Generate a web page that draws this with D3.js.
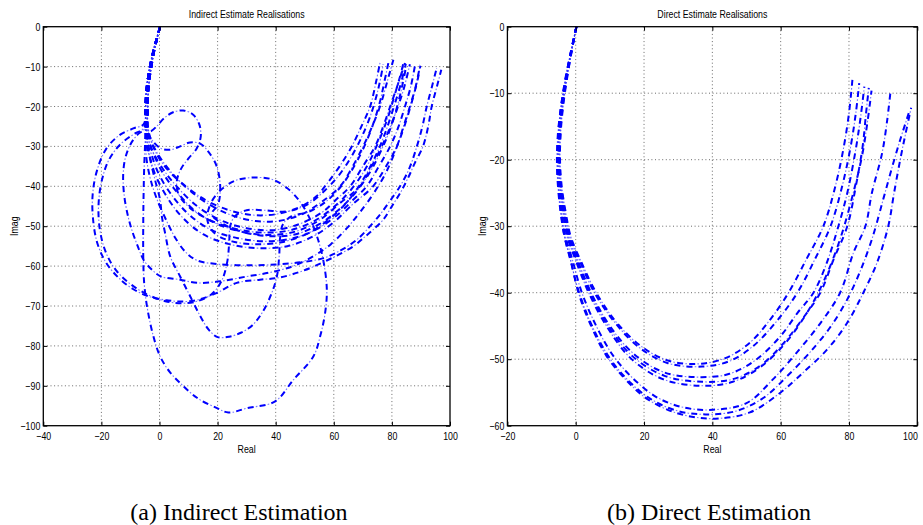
<!DOCTYPE html>
<html>
<head>
<meta charset="utf-8">
<script src="https://cdn.jsdelivr.net/npm/d3@7/dist/d3.min.js"></script>
<style>
  body { margin: 0; background: #fff; }
  svg text { font-family: "Liberation Sans", Arial, Helvetica, sans-serif; fill: #000; }
  svg text.caption { font-family: "Liberation Serif", "Times New Roman", serif; font-size: 24px; }
</style>
</head>
<body>
<svg id="fig" width="923" height="525"></svg>
<script>
// ---- tick values ----
const indirectXTicks = [-40, -20, 0, 20, 40, 60, 80, 100];
const indirectYTicks = [0, -10, -20, -30, -40, -50, -60, -70, -80, -90, -100];
const directXTicks = [-20, 0, 20, 40, 60, 80, 100];
const directYTicks = [0, -10, -20, -30, -40, -50, -60];

// ---- indirect estimate realisations: [real, imag] ----
const trunkA = [[0.2,0],[-1,-3],[-2.1,-6],[-3.3,-10],[-4.2,-14],[-4.7,-18],[-4.8,-22]];
const trunkB = [[0.2,0],[-0.8,-3],[-1.8,-6],[-2.8,-10],[-3.6,-14],[-4,-18],[-4.1,-22]];

const ind1 = trunkB.concat([[-4,-26],[-2.8,-29],[-0.5,-32.5],[3,-36],[9,-40],[16,-43.5],[24,-46],[32,-47.2],[40,-47],[48,-45.3],[54,-42.5],[58,-39],[62,-35],[66.2,-30],[69.5,-25],[72.5,-20],[74.5,-14],[76,-8.7]]);
const ind2 = trunkB.concat([[-3.8,-26],[-2.6,-29],[-0.5,-32],[3.5,-36],[9.5,-40.5],[17,-44.5],[25,-47.3],[33,-48.7],[41,-48.7],[49,-47],[56,-43.8],[62.2,-40],[66.5,-35],[70.1,-30],[73.2,-25],[75.9,-20],[78.3,-14],[80.5,-8.3]]);
const ind3 = trunkA.concat([[-4.3,-26],[-3.5,-29],[-1.8,-32],[1.5,-36],[6.5,-40.5],[13,-45],[21,-48.5],[30,-50.5],[39,-51],[48,-49.5],[56,-46.5],[61,-43.2],[65.6,-40],[70,-35],[74.2,-30],[77,-25],[79.4,-20],[81.8,-15],[84.5,-9.1]]);
const ind4 = trunkB.concat([[-4.4,-26],[-3.6,-29],[-2,-32],[1,-36.5],[5.5,-41],[12,-46],[20,-49.5],[29,-51.5],[38,-52.2],[47,-51.3],[55,-48.5],[62.5,-44],[69,-40],[73,-35],[76.5,-30],[79.5,-25],[82.1,-20],[84.3,-15],[86.2,-9.4]]);
const ind5 = trunkA.concat([[-4.6,-26],[-4.2,-29],[-2.8,-32],[-0.5,-36.5],[3.5,-41.5],[10,-47],[18,-51],[27,-53],[37,-53.8],[46,-53],[54,-50.8],[61,-47.3],[66.5,-43.5],[71.3,-40],[75.5,-35],[79.4,-30],[82.3,-25],[84.5,-20],[86.5,-15],[88,-9.5]]);
const ind6 = trunkA.concat([[-4.7,-26],[-4.4,-30],[-3.2,-33],[-1.5,-37],[2,-42],[7.5,-47.5],[15,-52],[24,-54.5],[34,-55.5],[44,-55],[53,-52.5],[60,-49],[66.5,-44.5],[73.5,-40],[78,-35],[81.7,-30],[84,-25],[86.2,-20],[88.2,-15],[89.7,-9.6]]);
const ind7 = trunkA.concat([[-4.8,-26],[-4.8,-30],[-4.3,-34],[-3,-38.5],[-1,-43],[2,-48],[5.5,-53],[9,-56.5],[13,-58.6],[20,-59.5],[30,-59.8],[40,-59.6],[49,-59],[56.4,-58],[62.5,-56],[67.9,-53.4],[72.5,-50],[76,-47],[79.5,-43.5],[82.8,-40],[86,-35.5],[88.6,-30],[90.5,-25],[92,-20],[93.8,-15],[95.4,-10.4]]);
const ind8 = trunkA.concat([[-5.5,-24.5],[-9,-25.5],[-14,-27.3],[-18.5,-30.8],[-21.5,-36],[-23,-42],[-22.9,-48],[-21.5,-54],[-18.5,-59],[-14,-63],[-9,-65.8],[-4,-67.5],[2,-68.5],[8,-68.9],[13,-68.5],[19.8,-66.7],[26.6,-64.2],[34.6,-63.4],[40.4,-63],[46,-62],[51.8,-60.5],[57.6,-58.6],[62,-57],[66.8,-55],[70.5,-52.8],[73.5,-50.9],[77,-48.4],[80,-45],[83,-41.5],[85.5,-38],[88,-34],[90.7,-30],[92.5,-25],[93.7,-20],[95.5,-15],[97,-10.8]]);
const ind9 = trunkB.concat([[-5.5,-25.5],[-9,-27],[-13.5,-29.5],[-17.5,-33.5],[-20,-39],[-21,-45],[-20.5,-51],[-18.5,-56.5],[-15,-61],[-10,-64.5],[-4.5,-67],[2,-68.8],[8,-69.3],[13,-68.8],[18,-67],[21.5,-63.5],[23.3,-59],[24,-54],[24.3,-50],[26,-47.5],[30,-46],[36,-46],[44,-46.3],[51,-44.5],[57,-41],[62,-37],[66.5,-32],[70,-27],[73,-21.5],[75.5,-15],[77,-9.5]]);
const ind10 = trunkA.concat([[-4.8,-26],[-5,-30],[-5.3,-36],[-5.5,-43],[-5.6,-50],[-5.6,-57],[-5.3,-64],[-4.3,-70.1],[-2.1,-77.6],[0.2,-82.6],[3.5,-86.5],[7.1,-89.3],[12.9,-93],[19.8,-95.6],[23.7,-96.7],[30.1,-95.6],[39.8,-93.9],[46.1,-88.5],[53,-82.6],[55.3,-77.6],[57,-71.8],[57.6,-65.9],[56.5,-59],[54.6,-53.4],[52,-48.5],[48.5,-44],[44,-40.5],[38.5,-38.2],[32.2,-37.8],[26,-38.6],[21,-41],[17.5,-44.5],[16.5,-48.5],[19,-51.8],[25,-53.8],[33,-54.5],[42,-54],[50.5,-52],[58,-48.5],[64.5,-44],[69.5,-39],[74,-33],[77.5,-27],[80.5,-20.5],[83,-14.5],[84.8,-9.3]]);
const ind11 = trunkB.concat([[-4.5,-26],[-4,-30],[-3,-34],[-1.5,-38.5],[0.2,-43.4],[0.8,-47.5],[2,-52],[3.7,-57.6],[7.1,-62.6],[10.6,-67.6],[14,-72.5],[17,-76],[20,-77.8],[24,-77.7],[28,-76.7],[32,-74.8],[35.5,-71.5],[38.5,-67],[40.4,-62.6],[41.2,-57.5],[41.5,-53],[42.5,-49.5],[45.5,-47.5],[51,-46.5],[57,-44],[62.5,-40],[67,-35],[70.5,-30],[73.5,-24.5],[76,-18.5],[77.5,-13.5],[78.8,-9]]);
const ind12 = trunkB.concat([[-4.5,-25],[-3.2,-26.2],[-1,-25],[1.5,-23],[4.5,-21.5],[8.2,-21],[11.5,-22],[13.7,-24.5],[14.2,-27.5],[12.8,-30.5],[10,-33],[7.5,-35.5],[6,-38.5],[6.3,-41.5],[8.5,-44],[12.5,-46.5],[19,-49],[27,-50.8],[36,-51.6],[45,-51],[53,-48.8],[60,-45.2],[66,-40.8],[71,-35.5],[75,-29.5],[78.5,-23],[81,-17],[82.8,-12.5],[84,-9]]);
const ind13 = trunkA.concat([[-4.3,-26],[-2.5,-28.5],[0.5,-30.5],[4,-30.8],[7.1,-30],[10.5,-29],[14,-29.3],[17,-31.5],[19.7,-35],[20.9,-40],[20.2,-44.5],[18,-47],[22,-49.5],[29,-51.5],[38,-52.5],[47,-52],[55,-49.5],[61.5,-46],[67,-42],[72,-37],[76,-31.5],[79.5,-25.5],[82,-19.5],[83.8,-14],[85,-9.5]]);
const ind14 = trunkA.concat([[-5,-25.5],[-7.5,-27],[-10,-29.5],[-11.8,-33],[-12.5,-37],[-12.2,-42],[-11,-47],[-9.5,-51],[-7.5,-55],[-5.5,-58.4],[-2.5,-61],[0.5,-62.6],[7.1,-63.4],[12.9,-64.2],[20.9,-63.8],[30.1,-62.6],[38,-61.6],[46,-60],[53,-57.5],[59,-54.5],[64.5,-50.5],[69,-46.5],[73.5,-42],[78,-36.5],[81.5,-30.5],[84.5,-24.5],[87,-18.5],[88.8,-13.5],[89.8,-9.8]]);
const indirectRealisations = [ind1, ind2, ind3, ind4, ind5, ind6, ind7, ind8, ind9, ind10, ind11, ind12, ind13, ind14];

// ---- direct estimate realisations ----
const dirA = [[0.2,0],[-1.3,-4],[-2.6,-8],[-3.7,-12],[-4.4,-16],[-4.6,-20],[-4.1,-24],[-2.9,-28],[-1.5,-31.5],[1.3,-35],[6,-40],[12,-44.5],[19,-48],[27,-50.2],[36,-50.7],[44,-49.8],[51,-47.5],[57,-44],[62.3,-40],[67.5,-35],[72.5,-30],[76,-24],[78.5,-18],[80,-13],[81,-8]];
const dirB = [[0.2,0],[-1.3,-4],[-2.7,-8],[-3.8,-12],[-4.5,-16],[-4.7,-20],[-4.3,-24],[-3.1,-28],[-1.8,-31.5],[1,-35],[5.5,-40],[11.5,-44.5],[18.5,-48.2],[27,-50.6],[37,-51.1],[45,-50.3],[52,-48],[58.5,-44.5],[64.9,-40],[70,-35],[74.6,-30],[78,-24],[80.5,-18],[82,-13],[83,-8.5]];
const dirC = [[0.2,0],[-1.4,-4],[-2.8,-8],[-3.9,-12],[-4.7,-16],[-4.9,-20],[-4.5,-24],[-3.4,-28],[-2.1,-31.5],[0.5,-35],[4.5,-40],[10,-45],[17,-49.2],[26,-52],[36,-52.7],[45,-52.2],[53,-50],[60,-46.5],[65,-43],[69.6,-40],[73.5,-35.5],[76.9,-30],[79.5,-25],[81.8,-19],[83.3,-14],[84.5,-9]];
const dirD = [[0.2,0],[-1.4,-4],[-2.8,-8],[-4,-12],[-4.8,-16],[-5,-20],[-4.6,-24],[-3.5,-28],[-2.3,-31.5],[0.2,-35],[4.2,-40],[9.5,-45],[16.5,-49.5],[26,-52.5],[37,-53.4],[46,-53],[54,-51],[61,-47.5],[67,-43.5],[71.6,-40],[75.5,-35],[79.5,-30],[82,-24],[84,-18],[85,-13],[85.8,-9.2]];
const dirE = [[0.2,0],[-1.4,-4],[-2.9,-8],[-4.1,-12],[-4.9,-16],[-5.1,-20],[-4.8,-24],[-3.7,-28],[-2.5,-31.5],[-0.1,-35],[3.8,-40],[9,-45],[16,-49.8],[25.5,-53],[37,-54],[46,-53.4],[54,-51.2],[61,-47.8],[66.5,-44],[70.5,-40.5],[74.5,-36],[78,-31],[81,-25.5],[83.8,-19.5],[85.5,-14],[86.6,-9.6]];
const dirF = [[0.2,0],[-1.5,-4],[-3,-8],[-4.2,-12],[-5,-16],[-5.3,-20],[-5,-24],[-4.1,-28],[-3,-31.5],[-1,-35],[1.8,-40],[6,-45],[11,-49.5],[17,-53],[24,-55.8],[32,-57.3],[40.2,-57.6],[50,-56.6],[57.8,-53],[64.7,-49],[71.6,-44.6],[77.4,-40],[81.3,-34],[84.8,-30],[86.7,-25],[89.7,-19],[91.2,-14],[92.1,-10]];
const dirG = [[0.2,0],[-1.5,-4],[-3,-8],[-4.3,-12],[-5.1,-16],[-5.4,-20],[-5.1,-24],[-4.3,-28],[-3.3,-31.5],[-1.6,-35],[1,-40],[4.8,-45],[9.5,-49.5],[15,-53],[22,-56],[30,-57.8],[38,-58.3],[47,-57.8],[55,-55.8],[62,-52.5],[68.5,-49],[74.5,-45.2],[79.5,-41],[83.5,-36.5],[87,-31.5],[90,-26],[92.7,-21],[95,-17],[97.5,-13]];
const dirH = [[0.2,0],[-1.5,-4],[-3.1,-8],[-4.3,-12],[-5.2,-16],[-5.5,-20],[-5.2,-24],[-4.4,-28],[-3.3,-31.5],[-1.5,-35],[0.8,-40],[4.5,-45],[9,-49.5],[14.5,-53],[21,-56],[29,-58],[36,-58.8],[42,-58.9],[51,-58],[60,-55],[66.6,-52],[73.5,-48.6],[79.4,-44.6],[84.2,-40],[88.2,-35.5],[91.5,-30],[93.2,-25],[95,-20],[96.6,-16],[98.2,-12.2]];
const directRealisations = [dirA, dirB, dirC, dirD, dirE, dirF, dirG, dirH];

const svg = d3.select("#fig");
const fmt = d3.format("d");

// squeeze text horizontally to mimic the narrow Helvetica of the original
function narrow(sel, k = 0.8) {
  sel.each(function () {
    const w = this.getComputedTextLength();
    if (w > 0) d3.select(this).attr("textLength", w * k).attr("lengthAdjust", "spacingAndGlyphs");
  });
}

function drawPanel(p) {
  const x = d3.scaleLinear().domain(p.xDomain).range([p.left, p.right]);
  const y = d3.scaleLinear().domain(p.yDomain).range([p.bottom, p.top]);
  const g = svg.append("g");
  const clipId = "clip-" + p.id;

  g.append("clipPath").attr("id", clipId)
    .append("rect")
      .attr("x", p.left).attr("y", p.top)
      .attr("width", p.right - p.left).attr("height", p.bottom - p.top);

  // dotted grid
  const grid = g.append("g").attr("stroke", "#444").attr("stroke-width", 0.8)
    .attr("stroke-dasharray", "1,2.6");
  grid.selectAll(".gx").data(p.xTicks.slice(1, -1)).join("line")
    .attr("x1", d => x(d)).attr("x2", d => x(d))
    .attr("y1", p.top).attr("y2", p.bottom);
  grid.selectAll(".gy").data(p.yTicks.slice(1, -1)).join("line")
    .attr("y1", d => y(d)).attr("y2", d => y(d))
    .attr("x1", p.left).attr("x2", p.right);

  // realisations: thick dashes plus faint dots, like matlab's '-.'
  const line = d3.line().x(d => x(d[0])).y(d => y(d[1])).curve(d3.curveCatmullRom.alpha(0.5));
  const curves = g.append("g").attr("clip-path", `url(#${clipId})`).attr("fill", "none");
  curves.selectAll(".dash").data(p.curves).join("path")
    .attr("d", line)
    .attr("stroke", "#0000ff").attr("stroke-width", 2)
    .attr("stroke-dasharray", "6,6");
  curves.selectAll(".dot").data(p.curves).join("path")
    .attr("d", line)
    .attr("stroke", "#3030ff").attr("stroke-width", 1.1).attr("stroke-opacity", 0.65)
    .attr("stroke-dasharray", "0,8.2,1.6,2.2");

  // axes with inward ticks on all four sides
  const style = a => a.call(s => s.select(".domain").remove())
    .call(s => s.selectAll("line").attr("stroke", "#000"))
    .call(s => s.selectAll("text").attr("font-size", 11).attr("font-family", null));

  const bottomAxis = g.append("g").attr("transform", `translate(0,${p.bottom})`)
    .call(d3.axisBottom(x).tickValues(p.xTicks).tickFormat(fmt).tickSizeInner(-4).tickSizeOuter(0).tickPadding(6.2))
    .call(style);
  // keep the last label of the right panel inside the page
  if (p.right > 900) bottomAxis.selectAll(".tick text").filter(d => d === p.xTicks[p.xTicks.length - 1])
    .attr("text-anchor", "end").attr("dx", 0);
  g.append("g").attr("transform", `translate(0,${p.top})`)
    .call(d3.axisTop(x).tickValues(p.xTicks).tickFormat("").tickSizeInner(-4).tickSizeOuter(0))
    .call(style);
  g.append("g").attr("transform", `translate(${p.left},0)`)
    .call(d3.axisLeft(y).tickValues(p.yTicks).tickFormat(fmt).tickSizeInner(-4).tickSizeOuter(0).tickPadding(3))
    .call(style);
  g.append("g").attr("transform", `translate(${p.right},0)`)
    .call(d3.axisRight(y).tickValues(p.yTicks).tickFormat("").tickSizeInner(-4).tickSizeOuter(0))
    .call(style);

  g.append("rect")
    .attr("x", p.left).attr("y", p.top)
    .attr("width", p.right - p.left).attr("height", p.bottom - p.top)
    .attr("fill", "none").attr("stroke", "#000").attr("stroke-width", 1.3);

  const cx = (p.left + p.right) / 2;
  g.append("text").attr("x", cx).attr("y", 18.3).attr("text-anchor", "middle")
    .attr("font-size", 11).text(p.title);
  g.append("text").attr("x", cx).attr("y", 453).attr("text-anchor", "middle")
    .attr("font-size", 11).text("Real");
  g.append("text").attr("transform", `translate(${p.ylabelX},${(p.top + p.bottom) / 2}) rotate(-90)`)
    .attr("text-anchor", "middle").attr("font-size", 11).text("Imag");

  g.selectAll("text").call(narrow);

  svg.append("text").attr("class", "caption")
    .attr("x", p.captionX).attr("y", 520).attr("text-anchor", "middle")
    .text(p.caption);
}

drawPanel({
  id: "ind", left: 43.3, right: 450, top: 26.7, bottom: 425.7,
  xDomain: [-40, 100], yDomain: [-100, 0],
  xTicks: indirectXTicks, yTicks: indirectYTicks,
  curves: indirectRealisations,
  title: "Indirect Estimate Realisations", ylabelX: 17.5,
  caption: "(a) Indirect Estimation", captionX: 239
});

drawPanel({
  id: "dir", left: 507.4, right: 917.3, top: 26.7, bottom: 425.7,
  xDomain: [-20, 100], yDomain: [-60, 0],
  xTicks: directXTicks, yTicks: directYTicks,
  curves: directRealisations,
  title: "Direct Estimate Realisations", ylabelX: 486,
  caption: "(b) Direct Estimation", captionX: 709
});
</script>
</body>
</html>
